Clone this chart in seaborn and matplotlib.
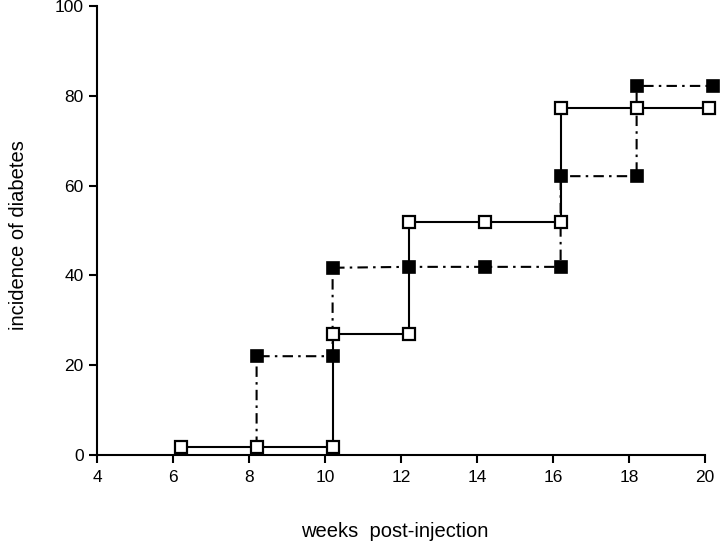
#!/usr/bin/env python3
import pandas as pd
import matplotlib
matplotlib.use("Agg")
import matplotlib.pyplot as plt
import seaborn as sns

sns.set_style("ticks")
plt.rcParams['font.family'] = ['Liberation Sans', 'DejaVu Sans']

# open squares, solid line
OPEN_WEEKS = [6.2, 8.2, 10.2, 10.2, 12.2, 12.2, 14.2, 16.2, 16.2, 18.2, 20.1]
OPEN_INCIDENCE = [1.8, 1.8, 1.8, 27, 27, 52, 52, 52, 77.3, 77.3, 77.3]

# filled squares, dash-dot line (starts from the open square at week 8)
FILLED_WEEKS = [8.2, 8.2, 10.2, 10.2, 12.2, 14.2, 16.2, 16.2, 18.2, 18.2, 20.2]
FILLED_INCIDENCE = [1.8, 22, 22, 41.7, 41.9, 41.9, 41.9, 62.1, 62.1, 82.2, 82.2]

X_TICKS = [4, 6, 8, 10, 12, 14, 16, 18, 20]
Y_TICKS = [0, 20, 40, 60, 80, 100]

df_open = pd.DataFrame({"weeks": OPEN_WEEKS, "incidence": OPEN_INCIDENCE})
df_filled = pd.DataFrame({"weeks": FILLED_WEEKS, "incidence": FILLED_INCIDENCE})

fig = plt.figure(figsize=(7.2, 5.46), dpi=100)
ax = fig.add_axes([0.1347, 0.1667, 0.8445, 0.8223])

# dash-dot line for filled series
sns.lineplot(data=df_filled, x="weeks", y="incidence", estimator=None, sort=False,
             color="black", linewidth=1.5, ax=ax, zorder=2)
ax.lines[-1].set_dashes((5, 2.5, 1.2, 2.5))
# filled markers (skip the first point, it is only where the line starts)
ax.plot(FILLED_WEEKS[1:], FILLED_INCIDENCE[1:], linestyle="none", marker="s",
        markersize=9, markerfacecolor="black", markeredgecolor="black",
        markeredgewidth=1.2, zorder=4)

sns.lineplot(data=df_open, x="weeks", y="incidence", estimator=None, sort=False,
             color="black", linewidth=1.5, marker="s", markersize=9,
             markerfacecolor="white", markeredgecolor="black", markeredgewidth=1.6,
             ax=ax, zorder=3)

ax.set_xlim(4, 20)
ax.set_ylim(0, 100)
ax.set_xticks(X_TICKS)
ax.set_yticks(Y_TICKS)
ax.tick_params(axis="both", direction="out", length=6, width=1.5, labelsize=12.5,
               colors="black", labelcolor="black")
ax.tick_params(axis="x", pad=5)

sns.despine(ax=ax)
ax.spines["left"].set_linewidth(1.5)
ax.spines["bottom"].set_linewidth(1.5)
ax.spines["left"].set_color("black")
ax.spines["bottom"].set_color("black")
for m in ax.get_lines():
    m.set_clip_on(False)

ax.set_xlabel("weeks  post-injection", fontsize=14.5, color="black")
ax.set_ylabel("incidence of diabetes", fontsize=14.5, color="black")
ax.xaxis.set_label_coords(0.49, -0.15)
ax.yaxis.set_label_coords(-0.113, 0.49)

plt.savefig("out.png", dpi=100)
